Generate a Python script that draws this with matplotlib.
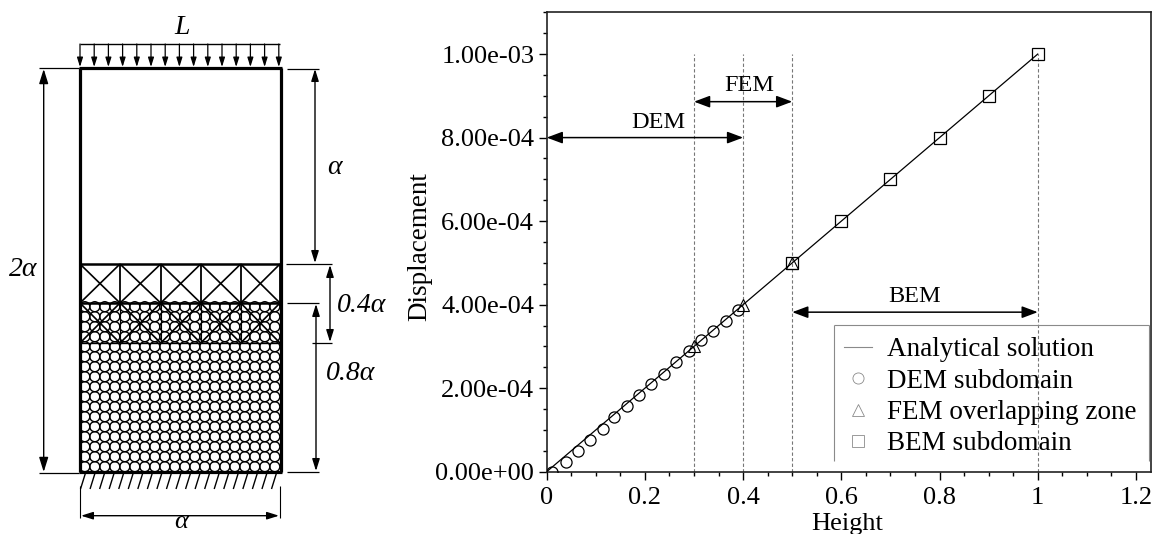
import matplotlib
matplotlib.use('Agg')
import matplotlib.pyplot as plt
from matplotlib.collections import EllipseCollection
from matplotlib.ticker import FixedLocator, MultipleLocator

plt.rcParams['font.family'] = ['Liberation Serif', 'DejaVu Serif']

# Data
line_x = [0.0, 1.0]
line_y = [0.0, 1.0e-3]
dem_x = [0.0115, 0.0387, 0.0638, 0.0883, 0.114, 0.138, 0.1636, 0.1887,
         0.213, 0.239, 0.2627, 0.289, 0.3136, 0.338, 0.3646, 0.390]
dem_y = [0.0, 2.39e-5, 5.03e-5, 7.58e-5, 1.03e-4, 1.31e-4, 1.57e-4, 1.83e-4,
         2.09e-4, 2.35e-4, 2.62e-4, 2.89e-4, 3.16e-4, 3.38e-4, 3.62e-4, 3.87e-4]
fem_x = [0.3, 0.4, 0.5]
fem_y = [3.0e-4, 4.0e-4, 5.0e-4]
bem_x = [0.5, 0.6, 0.7, 0.8, 0.9, 1.0]
bem_y = [5.0e-4, 6.0e-4, 7.0e-4, 8.0e-4, 9.0e-4, 1.0e-3]
zone_lines = [0.3, 0.4, 0.5, 1.0]
x_ticks = [0, 0.2, 0.4, 0.6, 0.8, 1.0, 1.2]
x_labels = ['0', '0.2', '0.4', '0.6', '0.8', '1', '1.2']
y_ticks = [0, 2e-4, 4e-4, 6e-4, 8e-4, 1e-3]
y_labels = ['0.00e+00', '2.00e-04', '4.00e-04', '6.00e-04', '8.00e-04', '1.00e-03']

W, H = 1155, 534
fig = plt.figure(figsize=(W / 100, H / 100), dpi=100)

# Right hand plot
ax = fig.add_axes([546.7 / W, 1 - 471.7 / H, 604 / W, 459.4 / H])
ax.set_xlim(0, 1.23)
ax.set_ylim(0, 1.1e-3)
for s in ax.spines.values():
    s.set_linewidth(1.2)
    s.set_color('#222222')

ax.vlines(zone_lines, 0, 1e-3, colors='#777777', linestyles=(0, (3, 2)), linewidth=0.8, zorder=1)
ax.plot(line_x, line_y, color='black', lw=0.9, label='Analytical solution', zorder=2)
ax.plot(dem_x, dem_y, 'o', ms=8, mfc='none', mec='black', mew=0.9, zorder=3)
ax.plot(fem_x, fem_y, '^', ms=8, mfc='none', mec='black', mew=0.8, zorder=3)
ax.plot(bem_x, bem_y, 's', ms=8, mfc='none', mec='black', mew=0.9, zorder=3)

ax.xaxis.set_major_locator(FixedLocator(x_ticks))
ax.set_xticklabels(x_labels)
ax.yaxis.set_major_locator(FixedLocator(y_ticks))
ax.set_yticklabels(y_labels)
ax.xaxis.set_minor_locator(MultipleLocator(0.05))
ax.yaxis.set_minor_locator(MultipleLocator(5e-5))
ax.tick_params(axis='both', which='major', labelsize=19, length=6, width=1.0, pad=3)
ax.tick_params(axis='both', which='minor', length=3, width=1.0)
ax.tick_params(axis='x', which='both', pad=5)
ax.set_xlabel('Height', fontsize=19, labelpad=3)
ax.xaxis.label.set_position((0.497, 0))
ax.set_ylabel('Displacement', fontsize=19.5, labelpad=2, y=0.49)

arrow = dict(arrowstyle='<|-|>,head_length=0.8,head_width=0.3', mutation_scale=12,
             color='black', lw=1.1, shrinkA=0, shrinkB=0)
ax.annotate('', xy=(0.0, 8e-4), xytext=(0.4, 8e-4), arrowprops=arrow)
ax.annotate('', xy=(0.3, 8.86e-4), xytext=(0.5, 8.86e-4), arrowprops=arrow)
ax.annotate('', xy=(0.5, 3.82e-4), xytext=(1.0, 3.82e-4), arrowprops=arrow)
ax.text(0.228, 8.12e-4, 'DEM', fontsize=17.5, ha='center', va='bottom')
ax.text(0.413, 9.0e-4, 'FEM', fontsize=17.5, ha='center', va='bottom')
ax.text(0.75, 3.95e-4, 'BEM', fontsize=17.5, ha='center', va='bottom')

# legend, grey markers and no bottom edge on its frame
grey = '#8a8a8a'
handles = [
    plt.Line2D([], [], color=grey, lw=0.8),
    plt.Line2D([], [], marker='o', ls='', ms=8, mfc='none', mec=grey, mew=0.6),
    plt.Line2D([], [], marker='^', ls='', ms=8, mfc='none', mec=grey, mew=0.6),
    plt.Line2D([], [], marker='s', ls='', ms=8, mfc='none', mec=grey, mew=0.6),
]
names = ['Analytical solution', 'DEM subdomain', 'FEM overlapping zone', 'BEM subdomain']
ax.legend(handles, names, loc='upper left', bbox_to_anchor=(844 / W, 1 - 337 / H),
          bbox_transform=fig.transFigure, frameon=False, fontsize=19.5, numpoints=1,
          borderpad=0, borderaxespad=0, handlelength=1.04, handletextpad=0.55,
          labelspacing=0.24)

# Sketch on the left, drawn in pixel units of the figure
sk = fig.add_axes([0, 0, 1, 1], facecolor='none')
sk.set_xlim(0, W)
sk.set_ylim(H, 0)
sk.axis('off')


def seg(x0, y0, x1, y1, lw=1.0, color='black'):
    sk.plot([x0, x1], [y0, y1], color=color, lw=lw, solid_capstyle='butt', clip_on=False)


def dim(x0, y0, x1, y1, lw=1.0, scale=9, style='<|-|>'):
    sk.annotate('', xy=(x0, y0), xytext=(x1, y1),
                arrowprops=dict(arrowstyle=style + ',head_length=0.8,head_width=0.25',
                                mutation_scale=scale, color='black', lw=lw,
                                shrinkA=0, shrinkB=0))


seg(834, 461, 834, 325, 0.8, grey)
seg(834, 325, 1148.7, 325, 0.8, grey)
seg(1148.7, 325, 1148.7, 461, 0.8, grey)

left, right, top, bottom = 79.5, 280.5, 68, 472
row_a, row_b, row_c = 264, 303, 343
cols = [80, 120, 160.7, 200.7, 240.7, 280]

# packed particles
px, py = [], []
for r in range(17):
    for c in range(20):
        px.append(left + 5.3 + c * 10.0)
        py.append(bottom - 5.3 - r * 10.0)
sk.add_collection(EllipseCollection([10.0] * len(px), [10.0] * len(px), [0] * len(px),
                                    units='xy', offsets=list(zip(px, py)),
                                    offset_transform=sk.transData,
                                    facecolors='none', edgecolors='black', linewidths=1.0))

# finite element rows
for c0, c1 in zip(cols[:-1], cols[1:]):
    for y0, y1 in [(row_a, row_b), (row_b, row_c)]:
        seg(c0, y0, c1, y1, 1.2)
        seg(c0, y1, c1, y0, 1.2)
for c in cols:
    seg(c, row_a, c, row_b, 1.3)
    seg(c, row_b, c, row_c, 0.8)
seg(left, row_a, right, row_a, 1.8)
seg(left, row_b, right, row_b, 1.8)
seg(left, row_c, right, row_c, 1.0)

# outline
seg(left, top, left, bottom, 2.3)
seg(right, top, right, bottom, 2.3)
seg(left - 1, top, right + 1, top, 2.3)
seg(left - 1, bottom, right + 1, bottom, 2.3)

# load
seg(79.5, 44, 280, 44, 1.0)
for i in range(15):
    xa = 80 + i * 14.2
    dim(xa, 67, xa, 44, 0.9, 7, '-|>')

# supports
for i in range(21):
    xa = 80.5 + i * 9.55
    seg(xa, 489, xa + 5, 473, 1.0)

# dimensions
seg(39, 68, 79, 68, 0.9)
seg(39, 473, 79, 473, 0.9)
dim(43.7, 69, 43.7, 472, 1.0, 11)
seg(287, 68.5, 319, 68.5, 0.9)
seg(286, 264, 332, 264, 0.9)
seg(287, 303, 319, 303, 0.9)
seg(312, 343, 332, 343, 0.9)
seg(287, 472, 319, 472, 0.9)
dim(315, 69, 315, 263, 1.0)
dim(330, 265, 330, 342, 1.0)
dim(316, 304, 316, 471, 1.0)
seg(80, 486, 80, 518, 0.8)
seg(280, 486, 280, 518, 0.8)
dim(81, 515.7, 279, 515.7, 1.0)

math_font = dict(fontsize=20, style='italic', ha='center', va='center')
sk.text(182, 28, 'L', **math_font)
sk.text(23, 270, '2α', **math_font)
sk.text(334, 168, 'α', **math_font)
sk.text(362, 305, '0.4α', **math_font)
sk.text(351, 373, '0.8α', **math_font)
sk.text(181, 533.5, 'α', fontsize=19, style='italic', ha='center', va='bottom')

fig.savefig('out.png', dpi=100)
